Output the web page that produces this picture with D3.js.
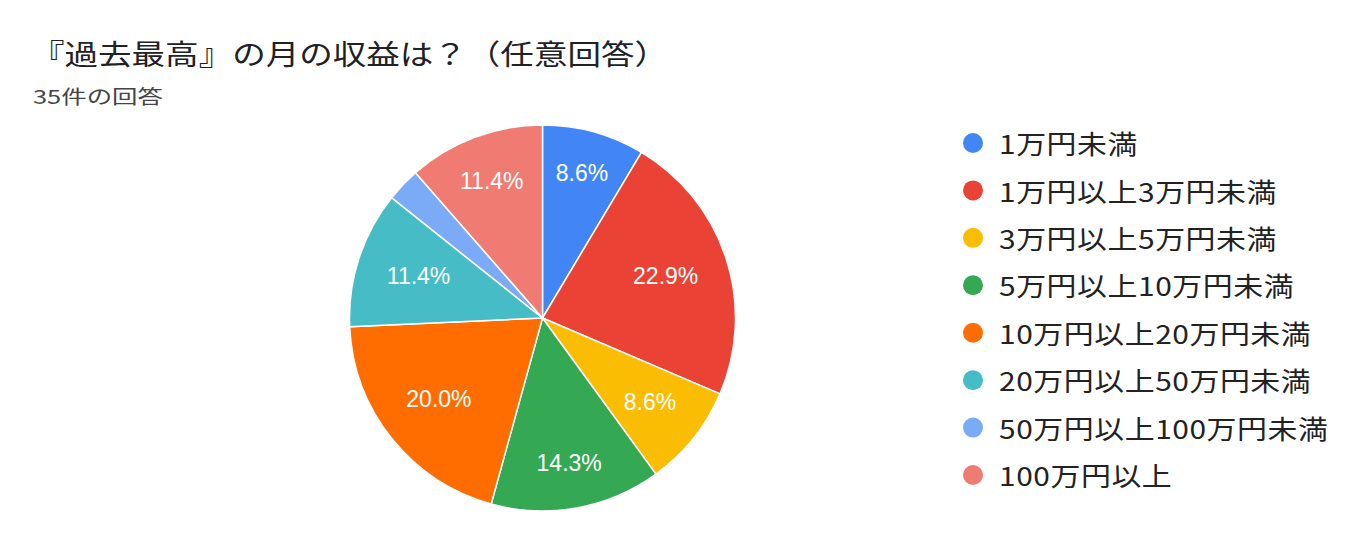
<!DOCTYPE html>
<html>
<head>
<meta charset="utf-8">
<script src="https://cdn.jsdelivr.net/npm/d3@7"></script>
<style>
  html, body { margin: 0; padding: 0; background: #fff; }
  svg { display: block; }
</style>
</head>
<body>
<svg id="chart" width="1356" height="549"></svg>
<script>
const titleText = "『過去最高』の月の収益は？（任意回答）";
const subtitleText = "35件の回答";
const categories = ["1万円未満", "1万円以上3万円未満", "3万円以上5万円未満", "5万円以上10万円未満",
  "10万円以上20万円未満", "20万円以上50万円未満", "50万円以上100万円未満", "100万円以上"];
const counts = [3, 8, 3, 5, 7, 4, 1, 4];
const colors = ["#4285f4", "#ea4335", "#fbbc04", "#34a853", "#ff6d01", "#46bdc6", "#7baaf7", "#f07b72"];

const svg = d3.select("#chart");
const cx = 542.5, cy = 318, R = 193;
const cjkFont = "'Noto Sans CJK JP', 'Noto Sans', sans-serif";
const latinFont = "Arial, 'Liberation Sans', sans-serif";

// Title
svg.append("text")
  .attr("x", 31).attr("y", 65)
  .attr("font-family", cjkFont)
  .attr("font-size", 28)
  .attr("fill", "#202124")
  .attr("textLength", 637)
  .attr("lengthAdjust", "spacingAndGlyphs")
  .text(titleText);

svg.append("text")
  .attr("x", 33).attr("y", 104)
  .attr("font-family", cjkFont)
  .attr("font-size", 19)
  .attr("fill", "#444")
  .attr("textLength", 130)
  .attr("lengthAdjust", "spacingAndGlyphs")
  .text(subtitleText);

// Pie
const total = d3.sum(counts);
const pie = d3.pie().sort(null).value(d => d)(counts);
const arc = d3.arc().innerRadius(0).outerRadius(R);
const color = d3.scaleOrdinal().domain(d3.range(counts.length)).range(colors);

const g = svg.append("g").attr("transform", `translate(${cx},${cy})`);
g.selectAll("path.slice")
  .data(pie)
  .join("path")
  .attr("class", "slice")
  .attr("d", arc)
  .attr("fill", (d, i) => color(i))
  .attr("stroke", "#fff")
  .attr("stroke-width", 1.5)
  .attr("stroke-linejoin", "round");

const fmt = v => (v / total * 100).toFixed(1) + "%";
const labelK = 163;
const labels = g.selectAll("text.lbl")
  .data(pie.filter(d => d.value / total >= 0.05))
  .join("text")
  .attr("class", "lbl")
  .attr("font-family", latinFont)
  .attr("font-size", 23)
  .attr("fill", "#fff")
  .attr("text-anchor", "middle")
  .attr("dominant-baseline", "central")
  .text(d => fmt(d.value));

labels.each(function(d) {
  const bb = this.getBBox();
  const a = (d.startAngle + d.endAngle) / 2;
  const s = Math.sin(a), c = -Math.cos(a);
  const hw = bb.width / 2, hh = 8;
  const r = labelK - (hw * Math.abs(s) + hh * Math.abs(c));
  d3.select(this).attr("x", r * s).attr("y", r * c - 2);
});

// Legend
const legendY = d3.scalePoint().domain(d3.range(categories.length)).range([143, 475]);
const items = svg.append("g").selectAll("g.item")
  .data(categories)
  .join("g")
  .attr("class", "item")
  .attr("transform", (d, i) => `translate(973,${legendY(i)})`);
items.append("circle")
  .attr("r", 10)
  .attr("fill", (d, i) => color(i));
items.append("text")
  .attr("transform", "translate(26,0) scale(1.15,1)")
  .attr("dominant-baseline", "central")
  .attr("font-family", cjkFont)
  .attr("font-size", 26)
  .attr("letter-spacing", "0.5px")
  .attr("fill", "#222")
  .text(d => d);
</script>
</body>
</html>
